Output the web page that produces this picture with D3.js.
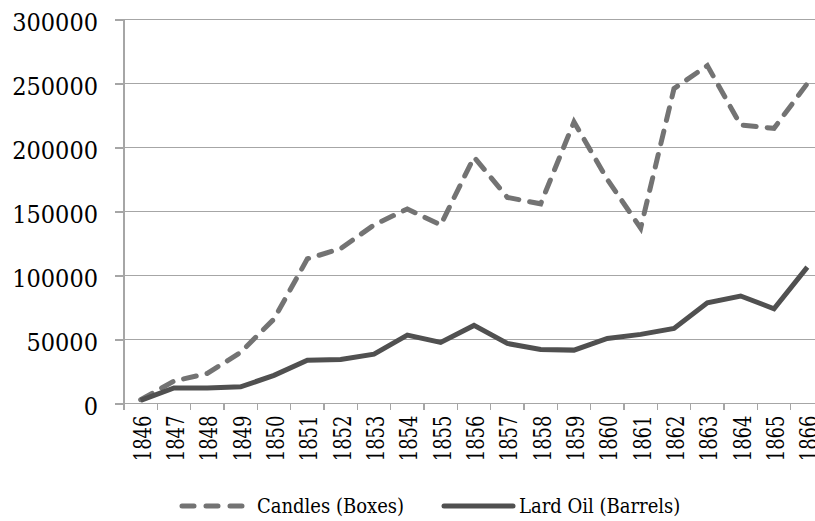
<!DOCTYPE html>
<meta charset="utf-8">
<style>

body {
  margin: 0;
  background: #fff;
}

text {
  font-family: "DejaVu Serif", serif;
  font-stretch: condensed;
  fill: #000;
}

.grid line {
  stroke: #a6a6a6;
  stroke-width: 1.5px;
  shape-rendering: crispEdges;
}

.axis path,
.axis line {
  fill: none;
  stroke: #a6a6a6;
  stroke-width: 1.5px;
  shape-rendering: crispEdges;
}

.line {
  fill: none;
  stroke-width: 5px;
}

.candles {
  stroke: #737373;
  stroke-dasharray: 13,11;
  stroke-linecap: round;
}

.lard {
  stroke: #505050;
}

</style>
<svg width="815" height="521"></svg>
<script src="https://d3js.org/d3.v7.min.js"></script>
<script>

var years = ["1846","1847","1848","1849","1850","1851","1852","1853","1854","1855","1856",
             "1857","1858","1859","1860","1861","1862","1863","1864","1865","1866"];

var candles = [3000, 17500, 23500, 40000, 66000, 113000, 121000, 139500, 152000, 139500, 192500,
               161000, 156000, 220000, 175000, 137000, 246000, 264000, 217500, 215000, 250000];

var lardOil = [2500, 12200, 12200, 13000, 22000, 33800, 34400, 38500, 53400, 47700, 61000,
               46900, 42200, 41700, 50800, 54000, 58600, 78600, 84000, 74000, 106500];

var yTicks = [0, 50000, 100000, 150000, 200000, 250000, 300000];

var svg = d3.select("svg");

var margin = {top: 19.5, left: 124},
    width = 700,
    height = 384;

var g = svg.append("g")
    .attr("transform", "translate(" + margin.left + "," + margin.top + ")");

var x = d3.scaleBand()
    .domain(years)
    .range([0, width]);

var y = d3.scaleLinear()
    .domain([0, 300000])
    .range([height, 0]);

// gridlines
g.append("g")
    .attr("class", "grid")
  .selectAll("line")
    .data(yTicks.slice(1))
  .enter().append("line")
    .attr("x1", 0)
    .attr("x2", width)
    .attr("y1", function(d) { return y(d); })
    .attr("y2", function(d) { return y(d); });

// y axis
var yAxis = g.append("g")
    .attr("class", "axis axis--y")
    .call(d3.axisLeft(y)
      .tickValues(yTicks)
      .tickFormat(d3.format("d"))
      .tickSize(9)
      .tickPadding(17)
      .tickSizeOuter(0));
yAxis.select(".domain").remove();
yAxis.append("line")
    .attr("y1", 0)
    .attr("y2", height + 6);
yAxis.selectAll("text")
    .attr("dy", "0.45em")
    .style("font-size", "25px");

// x axis: ticks at band edges
var xAxis = g.append("g")
    .attr("class", "axis axis--x")
    .attr("transform", "translate(0," + height + ")");
xAxis.append("line")
    .attr("x1", 0)
    .attr("x2", width);
xAxis.selectAll(".tick")
    .data(years)
  .enter().append("line")
    .attr("class", "tick")
    .attr("x1", function(d) { return x(d); })
    .attr("x2", function(d) { return x(d); })
    .attr("y1", 0)
    .attr("y2", 6);
xAxis.selectAll(".lbl")
    .data(years)
  .enter().append("text")
    .attr("class", "lbl")
    .attr("transform", function(d) {
      return "translate(" + (x(d) + x.bandwidth() / 2 + 1) + ",12) rotate(-90) scale(1,1.25)";
    })
    .attr("dy", "0.36em")
    .attr("text-anchor", "end")
    .style("font-size", "20px")
    .text(function(d) { return d; });

var line = d3.line()
    .x(function(d, i) { return x(years[i]) + x.bandwidth() / 2; })
    .y(function(d) { return y(d); });

g.append("path")
    .datum(candles)
    .attr("class", "line candles")
    .attr("d", line);

g.append("path")
    .datum(lardOil)
    .attr("class", "line lard")
    .attr("d", line);

// legend
var legend = svg.append("g")
    .attr("transform", "translate(0,506)");

legend.append("line")
    .attr("class", "line candles")
    .attr("x1", 182).attr("x2", 243)
    .attr("y1", 0).attr("y2", 0)
    .style("stroke-dasharray", "12,12");
legend.append("text")
    .attr("x", 257)
    .attr("dy", "0.35em")
    .style("font-size", "20px")
    .text("Candles (Boxes)");

legend.append("line")
    .attr("class", "line lard")
    .style("stroke-linecap", "round")
    .attr("x1", 444).attr("x2", 513)
    .attr("y1", 0).attr("y2", 0);
legend.append("text")
    .attr("x", 519)
    .attr("dy", "0.35em")
    .style("font-size", "20px")
    .text("Lard Oil (Barrels)");

</script>
